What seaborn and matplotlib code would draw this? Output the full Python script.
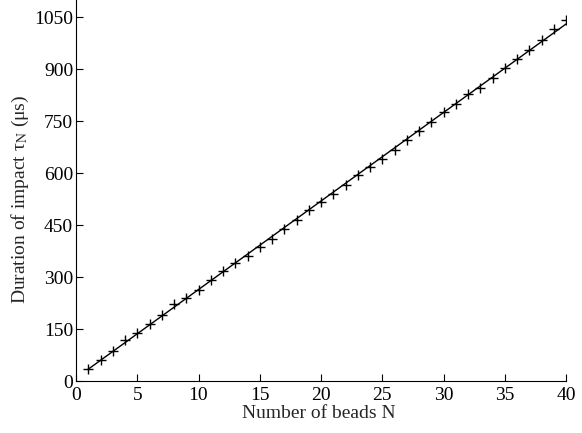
import numpy as np
import pandas as pd
import seaborn as sns
import matplotlib
matplotlib.use("Agg")
import matplotlib.pyplot as plt

N = list(range(1, 41))
tau = [34, 61, 87, 118, 140, 164, 190, 221, 241, 264,
       292, 318, 341, 362, 386, 410, 439, 466, 495, 516,
       540, 565, 595, 618, 641, 668, 695, 723, 747, 776,
       799, 829, 846, 875, 905, 929, 956, 984, 1016, 1042]
xticks = [0, 5, 10, 15, 20, 25, 30, 35, 40]
yticks = [0, 150, 300, 450, 600, 750, 900, 1050]

sns.set_theme(style="ticks")
plt.rcParams['font.family'] = ['Liberation Serif', 'DejaVu Serif']
plt.rcParams['mathtext.fontset'] = 'stix'

df = pd.DataFrame({"N": N, "tau": tau})
slope, intercept = np.polyfit(df["N"], df["tau"], 1)
fit = pd.DataFrame({"N": [min(N), max(N)]})
fit["tau"] = slope * fit["N"] + intercept

fig = plt.figure(figsize=(5.82, 4.33), dpi=100)
ax = fig.add_axes([76/582, 1 - 381/433, 490/582, 381/433])

sns.lineplot(data=fit, x="N", y="tau", ax=ax, color="black", linewidth=1.0)
sns.scatterplot(data=df, x="N", y="tau", ax=ax, marker="+", color="black",
                s=45, linewidth=1.0)

ax.set_xlim(0, 40)
ax.set_ylim(0, 1100)
ax.set_xticks(xticks)
ax.set_yticks(yticks)
ax.tick_params(direction="in", length=5, width=0.8, labelsize=14, colors="black", pad=2)
ax.tick_params(axis="x", pad=4)
for s in ["top", "right"]:
    ax.spines[s].set_visible(False)
for s in ["left", "bottom"]:
    ax.spines[s].set_color("black")
    ax.spines[s].set_linewidth(0.8)

ax.set_xlabel("Number of beads N", fontsize=14)
ax.xaxis.set_label_coords(0.495, -0.062)
ax.set_ylabel(r"Duration of impact τ$_{\mathrm{N}}$ (μs)", fontsize=14)
ax.yaxis.set_label_coords(-0.092, 0.478)

fig.savefig("out.png", dpi=100)
